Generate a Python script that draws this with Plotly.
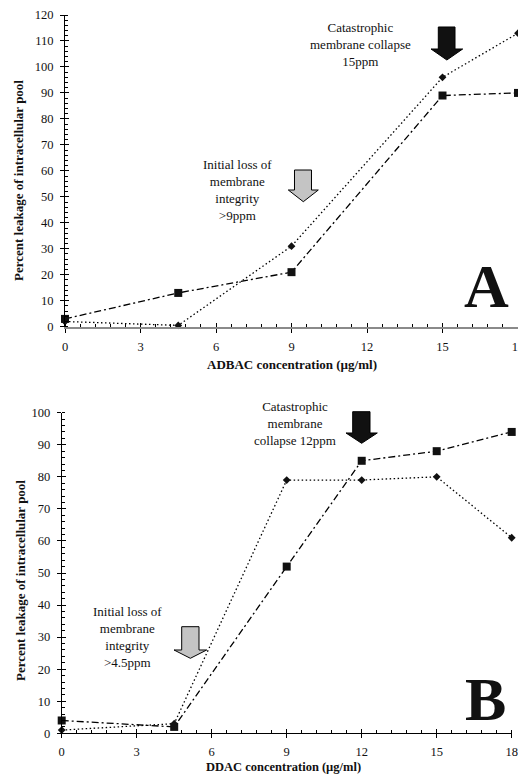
import plotly.graph_objects as go

W, H = 518, 774

# ---------------- data ----------------
# Panel A : ADBAC
conc_a = [0, 4.5, 9, 15, 18]
adbac_squares = [3, 13, 21, 89, 90]
adbac_diamonds = [2, 0.5, 31, 96, 113]

# Panel B : DDAC
conc_b = [0, 4.5, 9, 12, 15, 18]
ddac_squares = [4, 2, 52, 85, 88, 94]
ddac_diamonds = [1, 3, 79, 79, 80, 61]

x_tickvals = [0, 3, 6, 9, 12, 15, 18]
x_ticktext = ["0", "3", "6", "9", "12", "15", "18"]
ya_tickvals = list(range(0, 121, 10))
yb_tickvals = list(range(0, 101, 10))

FONT = "'Liberation Serif', 'Times New Roman', serif"


def px(x):
    return x / W


def py(y):
    return 1 - y / H


DOT = "1.5px,2.5px"
DASHDOT = "7px,3px,2px,3px"

fig = go.Figure()


def add_series(xs, ys, xa, ya, symbol, size, dash):
    fig.add_trace(go.Scatter(
        x=xs, y=ys, xaxis=xa, yaxis=ya, mode="lines+markers",
        line=dict(color="black", width=1.3, dash=dash),
        marker=dict(symbol=symbol, size=size, color="#111"),
        showlegend=False, cliponaxis=False, hoverinfo="skip"))


add_series(conc_a, adbac_diamonds, "x", "y", "diamond", 6, DOT)
add_series(conc_a, adbac_squares, "x", "y", "square", 8, DASHDOT)
add_series(conc_b, ddac_diamonds, "x2", "y2", "diamond", 6, DOT)
add_series(conc_b, ddac_squares, "x2", "y2", "square", 8, DASHDOT)

# dummy traces to register overlay axes (for crossing major ticks)
for xa, ya in [("x3", "y"), ("x", "y3"), ("x4", "y2"), ("x2", "y4")]:
    fig.add_trace(go.Scatter(x=[None], y=[None], xaxis=xa, yaxis=ya,
                             showlegend=False, hoverinfo="skip"))

tickfont = dict(family=FONT, size=12.5, color="#111")

dom_xa = [px(65), 1.0]
dom_ya = [py(326.7), py(15)]
dom_xb = [px(61.7), px(511.7)]
dom_yb = [py(733.3), py(412.7)]


def xaxis(domain, anchor, linecolor, linewidth):
    return dict(domain=domain, anchor=anchor, range=[0, 18],
                tickvals=x_tickvals, ticktext=x_ticktext,
                ticks="outside", ticklen=4, tickcolor="black", tickwidth=1,
                showline=True, linecolor=linecolor, linewidth=linewidth,
                showgrid=False, zeroline=False, tickfont=tickfont,
                ticklabeloverflow="allow", ticklabelstandoff=3,
                automargin=False,
                minor=dict(tick0=0, dtick=0.6, ticks="inside", ticklen=3,
                           tickcolor="black", tickwidth=1, showgrid=False),
                fixedrange=True)


def yaxis(domain, anchor, rng, tickvals):
    return dict(domain=domain, anchor=anchor, range=rng,
                tickvals=tickvals,
                ticks="outside", ticklen=4, tickcolor="black", tickwidth=1,
                showline=True, linecolor="black", linewidth=1,
                showgrid=False, zeroline=False, tickfont=tickfont,
                ticklabelstandoff=4, automargin=False,
                minor=dict(tick0=0, dtick=2, ticks="inside", ticklen=3,
                           tickcolor="black", tickwidth=1, showgrid=False),
                fixedrange=True)


def overlay_x(domain, over, anchor):
    return dict(domain=domain, overlaying=over, anchor=anchor, range=[0, 18],
                tickvals=x_tickvals, ticks="inside", ticklen=4,
                tickcolor="black", tickwidth=1, showticklabels=False,
                showline=False, showgrid=False, zeroline=False,
                automargin=False, fixedrange=True)


def overlay_y(domain, over, anchor, rng, tickvals):
    return dict(domain=domain, overlaying=over, anchor=anchor, range=rng,
                tickvals=tickvals, ticks="inside", ticklen=4,
                tickcolor="black", tickwidth=1, showticklabels=False,
                showline=False, showgrid=False, zeroline=False,
                automargin=False, fixedrange=True)


fig.update_layout(
    width=W, height=H,
    margin=dict(l=0, r=0, t=0, b=0, pad=0, autoexpand=False),
    paper_bgcolor="white", plot_bgcolor="white",
    font=dict(family=FONT, color="#111"),
    xaxis=xaxis(dom_xa, "y", "#8a8a8a", 2),
    yaxis=yaxis(dom_ya, "x", [0, 120], ya_tickvals),
    xaxis2=xaxis(dom_xb, "y2", "black", 1),
    yaxis2=yaxis(dom_yb, "x2", [0, 100], yb_tickvals),
    xaxis3=overlay_x(dom_xa, "x", "y"),
    yaxis3=overlay_y(dom_ya, "y", "x", [0, 120], ya_tickvals),
    xaxis4=overlay_x(dom_xb, "x2", "y2"),
    yaxis4=overlay_y(dom_yb, "y2", "x2", [0, 100], yb_tickvals),
)


def arrow(left, right, sl, sr, top, head, tip, fill):
    cx = (left + right) / 2
    pts = [(sl, top), (sr, top), (sr, head), (right, head), (cx, tip),
           (left, head), (sl, head)]
    path = "M " + " L ".join(f"{px(a):.5f},{py(b):.5f}" for a, b in pts) + " Z"
    fig.add_shape(type="path", path=path, xref="paper", yref="paper",
                  fillcolor=fill, line=dict(color="black", width=1))


# Panel A arrows
arrow(431, 462.7, 438.3, 455, 27, 49, 60, "#111")
arrow(288.3, 318.3, 294.5, 311.5, 170, 190, 201.7, "#c4c4c4")
# Panel B arrows
arrow(346, 377.3, 352.7, 370, 411.7, 433, 443.3, "#111")
arrow(174, 206.7, 181.7, 199, 626.7, 650, 658.3, "#c4c4c4")


def note(text, x, y, size=13, bold=False, angle=0):
    fig.add_annotation(
        text=f"<b>{text}</b>" if bold else text,
        x=px(x), y=py(y), xref="paper", yref="paper",
        xanchor="center", yanchor="middle", showarrow=False,
        textangle=angle, align="center",
        font=dict(family=FONT, size=size, color="#111"))


# Panel A texts
note("Catastrophic<br>membrane collapse<br>15ppm", 360, 45)
note("Initial loss of<br>membrane<br>integrity<br>&gt;9ppm", 237, 190)
note("A", 486, 286, size=62, bold=True)
note("Percent leakage of intracellular pool", 18, 181, size=13, bold=True, angle=-90)
note("ADBAC concentration (µg/ml)", 292, 364, size=13, bold=True)

# Panel B texts
note("Catastrophic<br>membrane<br>collapse 12ppm", 295, 423)
note("Initial loss of<br>membrane<br>integrity<br>&gt;4.5ppm", 127, 637)
note("B", 485, 699, size=62, bold=True)
note("Percent leakage of intracellular pool", 20, 581, size=13, bold=True, angle=-90)
note("DDAC concentration (µg/ml)", 283, 766.5, size=12.5, bold=True)

fig.write_html(
    "out.html",
    config={"displayModeBar": False, "staticPlot": True},
    post_script="document.body.style.margin='0';document.body.style.overflow='hidden';",
)
